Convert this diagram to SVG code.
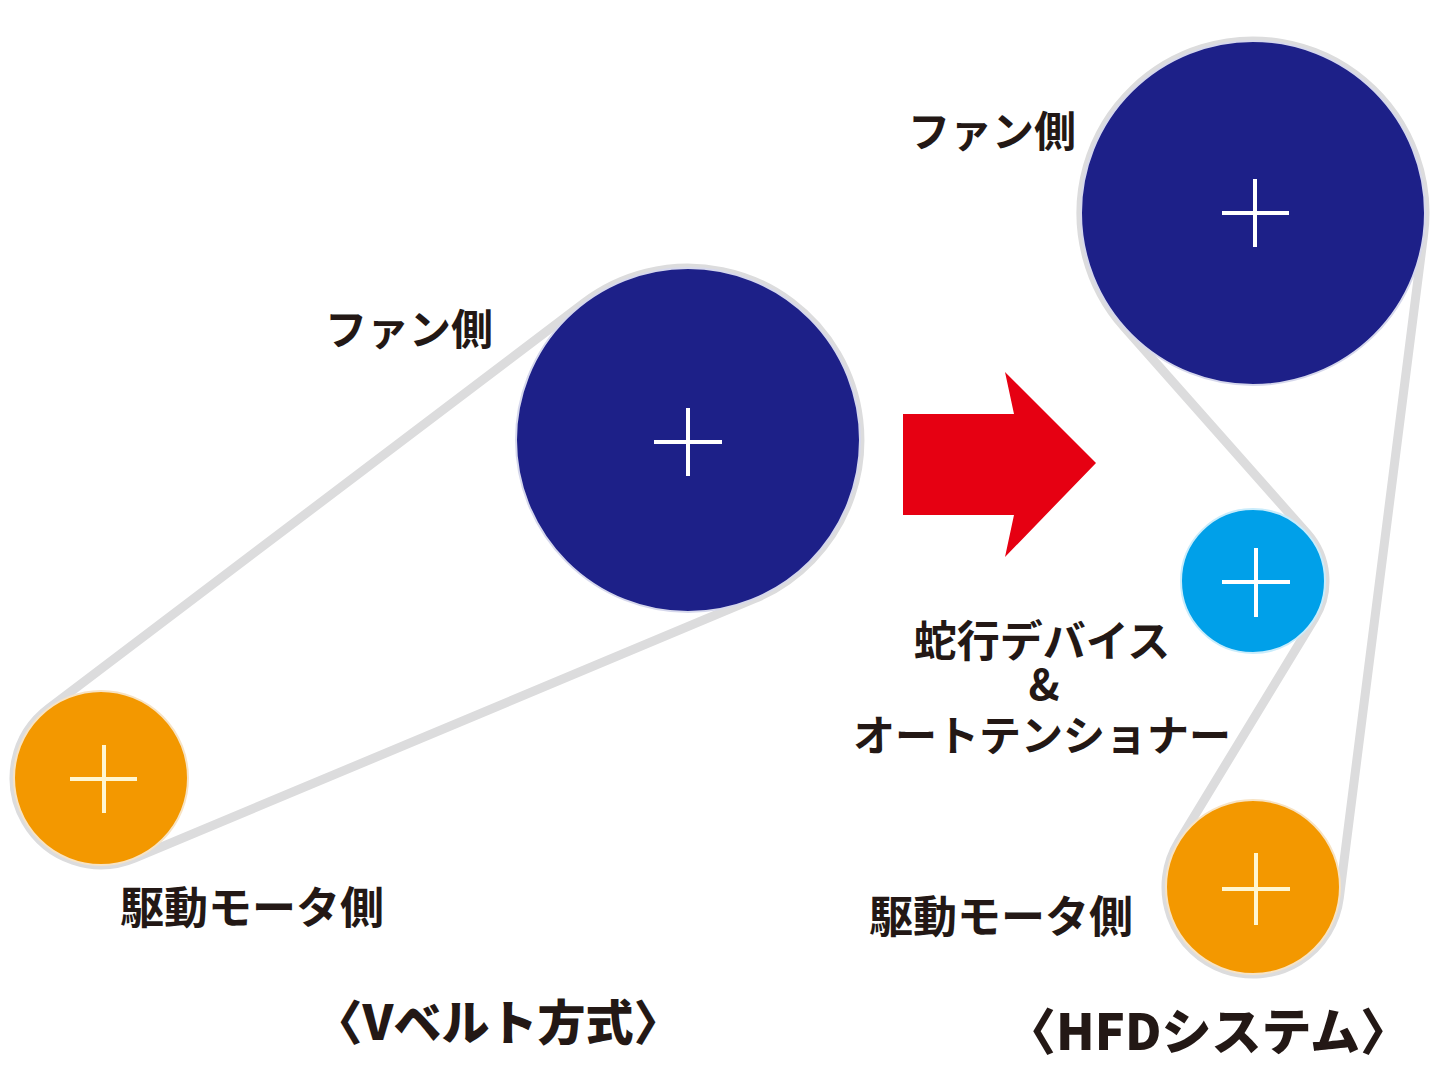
<svg xmlns="http://www.w3.org/2000/svg" width="1440" height="1080" viewBox="0 0 1440 1080">
<defs>
<style>
.belt{fill:none;stroke:#dcdcdd;stroke-width:9;stroke-linejoin:round}
.fan{fill:#1d2088;stroke:#d6d8ec;stroke-width:2}
.motor{fill:#f39800;stroke:#f7e3c4;stroke-width:2}
.tens{fill:#00a0e9;stroke:#c9ecfb;stroke-width:2}
.cross{stroke:#ffffff;stroke-width:4;fill:none}
.crossy{stroke:#fff6d0;stroke-width:4;fill:none}
.lbl{font-family:"Noto Sans CJK JP","Noto Sans",sans-serif;font-weight:700;fill:#231815}
.ttl{font-family:"Noto Sans CJK JP","Noto Sans",sans-serif;font-weight:900;fill:#231815}
</style>
</defs>
<rect width="1440" height="1080" fill="#ffffff"/>
<g id="connectors">
<path id="belt-v" class="belt" d="M584.2,302.9 A172,172 0 1 1 754.5,598.7 L134.6,858.2 A87,87 0 0 1 48.5,708.6 Z"/>
<path id="belt-hfd" class="belt" d="M1124.2,327 A172,172 0 1 1 1423.6,234.7 L1339.3,898 A87,87 0 1 1 1178.7,841.8 L1314.5,618.4 A72,72 0 0 0 1306.9,533.3 Z"/>
</g>
<g id="v-fan">
<circle class="fan" cx="688" cy="440" r="172"/>
<path class="cross" d="M654,442H722M688,408V476"/>
</g>
<g id="v-motor">
<circle class="motor" cx="101" cy="778" r="87"/>
<path class="crossy" d="M70,779H137M104,745V813"/>
</g>
<g id="hfd-fan">
<circle class="fan" cx="1253" cy="213" r="172"/>
<path class="cross" d="M1222,213H1289M1255,179V247"/>
</g>
<g id="hfd-tensioner">
<circle class="tens" cx="1253" cy="581" r="72"/>
<path class="cross" d="M1222,582H1290M1256,548V617"/>
</g>
<g id="hfd-motor">
<circle class="motor" cx="1253" cy="887" r="87"/>
<path class="crossy" d="M1222,889H1290M1256,853V925"/>
</g>
<g id="arrow">
<polygon points="903,414 1014,414 1005,372 1096,463 1005,557 1014,515 903,515" fill="#e60012"/>
</g>
<g id="labels">
<text class="lbl" x="325" y="345" font-size="42">ファン側</text>
<text class="lbl" x="908" y="147" font-size="42">ファン側</text>
<text class="lbl" x="120" y="924" font-size="44">駆動モータ側</text>
<text class="lbl" x="869" y="933" font-size="44">駆動モータ側</text>
<text class="lbl" x="1042" y="657" font-size="43" text-anchor="middle">蛇行デバイス</text>
<text class="lbl" x="1044" y="700" font-size="42" text-anchor="middle" font-family="Liberation Sans, Arial, sans-serif">&amp;</text>
<text class="lbl" x="1042" y="751" font-size="42" text-anchor="middle">オートテンショナー</text>
<text class="ttl" x="498" y="1040" font-size="48" text-anchor="middle">〈Vベルト方式〉</text>
<text class="ttl" x="1208" y="1050" font-size="50" text-anchor="middle">〈HFDシステム〉</text>
</g>
</svg>
